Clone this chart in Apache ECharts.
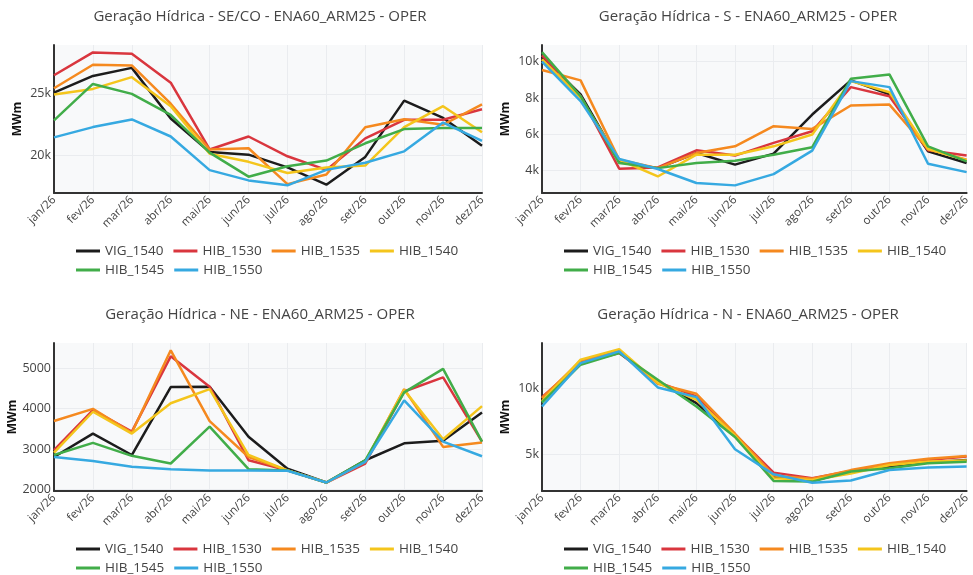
<!DOCTYPE html>
<html>
<head>
<meta charset="utf-8">
<script src="https://cdn.jsdelivr.net/npm/echarts@6/dist/echarts.min.js"></script>
<style>
  html, body { margin: 0; padding: 0; background: #ffffff; }
  #chart { width: 973px; height: 575px; }
</style>
</head>
<body>
<div id="chart"></div>
<script>
// Months shown on every x axis
const months = ['jan/26', 'fev/26', 'mar/26', 'abr/26', 'mai/26', 'jun/26',
                'jul/26', 'ago/26', 'set/26', 'out/26', 'nov/26', 'dez/26'];

// Cases, in drawing order
const caseNames = ['VIG_1540', 'HIB_1530', 'HIB_1535', 'HIB_1540', 'HIB_1545', 'HIB_1550'];
const caseColors = ['#1c1c1c', '#d9363e', '#f5891f', '#f4c51c', '#41ad49', '#36a9e1'];

// Hydro generation (MWm) per subsystem, one row per case
const valuesSECO = [
  [25100, 26450, 27100, 23000, 20300, 20080, 19050, 17650, 19900, 24450, 23050, 20800],
  [26500, 28350, 28250, 25900, 20500, 21550, 19950, 18850, 21400, 22900, 22900, 23750],
  [25450, 27350, 27300, 24200, 20500, 20600, 17700, 18480, 22300, 22950, 22500, 24150],
  [24950, 25400, 26350, 24000, 20150, 19500, 18600, 19050, 19200, 22300, 24000, 21900],
  [22850, 25800, 25000, 23300, 20250, 18300, 19150, 19600, 21000, 22150, 22230, 22230],
  [21480, 22310, 22930, 21550, 18830, 18000, 17600, 18850, 19430, 20350, 22680, 21200]
];
const valuesS = [
  [10280, 8200, 4510, 4140, 4970, 4330, 4940, 7090, 8970, 8200, 5060, 4420],
  [10350, 8100, 4110, 4180, 5120, 4830, 5530, 6170, 8600, 8100, 5120, 4830],
  [9540, 8970, 4600, 4140, 4970, 5340, 6450, 6300, 7590, 7640, 5190, 4600],
  [10130, 8010, 4600, 3680, 4880, 4880, 5340, 5990, 8930, 8320, 5190, 4570],
  [10530, 8100, 4420, 4140, 4420, 4550, 4880, 5290, 9060, 9300, 5340, 4510],
  [10000, 7830, 4640, 4090, 3320, 3190, 3810, 5100, 8930, 8600, 4380, 3920]
];
const valuesNE = [
  [2800, 3380, 2850, 4530, 4540, 3300, 2510, 2170, 2720, 3140, 3200, 3900],
  [2970, 3960, 3430, 5290, 4540, 2720, 2470, 2170, 2640, 4420, 4770, 3180],
  [3690, 3990, 3400, 5440, 3690, 2800, 2470, 2170, 2680, 4480, 3050, 3160],
  [2910, 3920, 3380, 4130, 4480, 2850, 2470, 2170, 2700, 4460, 3240, 4060],
  [2850, 3150, 2830, 2640, 3550, 2500, 2470, 2170, 2720, 4400, 4980, 3180],
  [2800, 2700, 2560, 2500, 2470, 2470, 2460, 2170, 2680, 4200, 3180, 2820]
];
const valuesN = [
  [9120, 11940, 12700, 10500, 8860, 6340, 3310, 3000, 3690, 4070, 4370, 4570],
  [9320, 11900, 12650, 10450, 9370, 6500, 3610, 3180, 3740, 4190, 4570, 4820],
  [9240, 12070, 12830, 10330, 9570, 6550, 3400, 3150, 3800, 4320, 4650, 4870],
  [9000, 12150, 12950, 10400, 9120, 6400, 3180, 3050, 3550, 4190, 4450, 4520],
  [8910, 11770, 12650, 10630, 8610, 6300, 2980, 2930, 3690, 3940, 4320, 4440],
  [8610, 11890, 12780, 10050, 9320, 5380, 3480, 2850, 3010, 3810, 3990, 4070]
];

// Y tick values and visible ranges per subsystem
const ticksSECO = [20000, 25000];
const ticksS = [4000, 6000, 8000, 10000];
const ticksNE = [2000, 3000, 4000, 5000];
const ticksN = [5000, 10000];
const rangeSECO = [16980, 28950];
const rangeS = [2770, 10920];
const rangeNE = [1960, 5620];
const rangeN = [2220, 13410];

const titles = [
  'Geração Hídrica - SE/CO - ENA60_ARM25 - OPER',
  'Geração Hídrica - S - ENA60_ARM25 - OPER',
  'Geração Hídrica - NE - ENA60_ARM25 - OPER',
  'Geração Hídrica - N - ENA60_ARM25 - OPER'
];

const FONT = '"Open Sans", "DejaVu Sans", sans-serif';
const TEXT = '#444444';

const panels = [
  { values: valuesSECO, ticks: ticksSECO, range: rangeSECO, kfmt: true,  left: 54,  top: 45 },
  { values: valuesS,    ticks: ticksS,    range: rangeS,    kfmt: true,  left: 542, top: 45 },
  { values: valuesNE,   ticks: ticksNE,   range: rangeNE,   kfmt: false, left: 54,  top: 343 },
  { values: valuesN,    ticks: ticksN,    range: rangeN,    kfmt: true,  left: 542, top: 343 }
];
const plotW = 428, plotH = 148;

const grid = [], xAxis = [], yAxis = [], series = [], title = [], legend = [];

panels.forEach((p, i) => {
  grid.push({
    left: p.left, top: p.top, width: plotW, height: plotH,
    show: true, backgroundColor: '#f8f9fa', borderWidth: 0
  });
  xAxis.push({
    type: 'category', gridIndex: i, data: months, boundaryGap: false,
    axisLine: { show: true, lineStyle: { color: '#333', width: 2 } },
    axisTick: { show: false },
    axisLabel: { rotate: 45, margin: 5, fontSize: 11.5, color: TEXT, fontFamily: FONT, interval: 0 },
    splitLine: { show: true, lineStyle: { color: '#eaecef', width: 1 } }
  });
  yAxis.push({
    type: 'value', gridIndex: i, min: p.range[0], max: p.range[1],
    name: 'MWm', nameLocation: 'middle', nameGap: 30,
    nameTextStyle: { fontSize: 12, fontWeight: 'bold', color: '#111', fontFamily: FONT },
    axisLine: { show: true, lineStyle: { color: '#333', width: 2 } },
    axisTick: { show: false, customValues: p.ticks },
    axisLabel: {
      customValues: p.ticks, margin: 3, fontSize: 12.5, color: TEXT, fontFamily: FONT,
      formatter: v => p.kfmt ? (v / 1000) + 'k' : String(v)
    },
    splitLine: { show: true, lineStyle: { color: '#eaecef', width: 1 } }
  });
  p.values.forEach((row, k) => {
    series.push({
      type: 'line', name: caseNames[k], xAxisIndex: i, yAxisIndex: i,
      data: row, showSymbol: false, symbol: 'none',
      lineStyle: { width: 2.5, color: caseColors[k] },
      itemStyle: { color: caseColors[k] }
    });
  });
  title.push({
    text: titles[i], left: p.left + 206, top: p.top - 36, textAlign: 'center', padding: 0,
    textStyle: { fontSize: 15, fontWeight: 'normal', color: TEXT, fontFamily: FONT }
  });
  const legendBase = {
    orient: 'horizontal', left: p.left + 22, icon: 'rect', itemWidth: 24, itemHeight: 3,
    itemGap: 10, padding: 0,
    textStyle: { fontSize: 13.5, color: TEXT, fontFamily: FONT }
  };
  legend.push(Object.assign({}, legendBase, { top: p.top + 199, data: caseNames.slice(0, 4) }));
  legend.push(Object.assign({}, legendBase, { top: p.top + 218, data: caseNames.slice(4) }));
});

const chart = echarts.init(document.getElementById('chart'), null, { renderer: 'canvas' });
chart.setOption({
  backgroundColor: '#ffffff',
  animation: false,
  title, legend, grid, xAxis, yAxis, series
});
</script>
</body>
</html>
